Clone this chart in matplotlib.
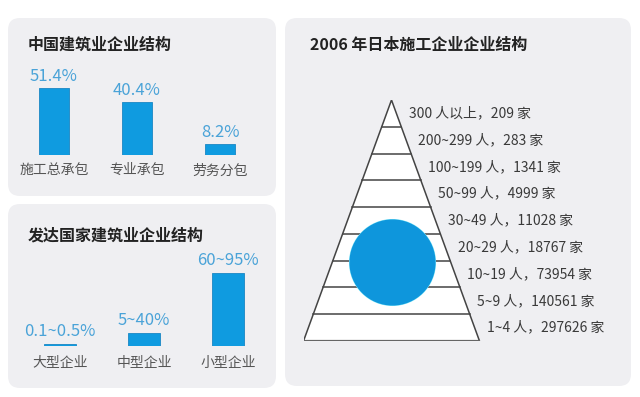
import matplotlib
matplotlib.use("Agg")
import matplotlib.pyplot as plt
from matplotlib.patches import FancyBboxPatch, Polygon
import numpy as np

plt.rcParams['font.family'] = ['Noto Sans CJK SC', 'DejaVu Sans']

# ---- data ----
cn_titles = "中国建筑业企业结构"
cn_categories = ["施工总承包", "专业承包", "劳务分包"]
cn_values = [51.4, 40.4, 8.2]
cn_labels = ["51.4%", "40.4%", "8.2%"]

dev_title = "发达国家建筑业企业结构"
dev_categories = ["大型企业", "中型企业", "小型企业"]
dev_heights = [1.5, 10, 56]          # bar heights as drawn (illustrative)
dev_labels = ["0.1~0.5%", "5~40%", "60~95%"]

jp_title = "2006 年日本施工企业企业结构"
jp_sizes = ["1~4 人", "5~9 人", "10~19 人", "20~29 人", "30~49 人",
            "50~99 人", "100~199 人", "200~299 人", "300 人以上"]
jp_counts = [297626, 140561, 73954, 18767, 11028, 4999, 1341, 283, 209]

BLUE = "#0f9be0"
LABEL_BLUE = "#4aa3d8"
PANEL = "#efeff2"
W, H = 640, 397

fig = plt.figure(figsize=(6.4, 3.97), dpi=100)
fig.patch.set_facecolor("white")


def px_axes(left, top, width, height):
    # axes placed by pixel box (from top-left)
    return fig.add_axes([left / W, 1 - (top + height) / H, width / W, height / H])


# background panels
bg = fig.add_axes([0, 0, 1, 1])
bg.set_xlim(0, W)
bg.set_ylim(H, 0)
bg.axis('off')
for (x0, y0, x1, y1) in [(8, 18, 276, 196), (8, 204, 276, 388), (285, 18, 631, 386)]:
    bg.add_patch(FancyBboxPatch((x0, y0), x1 - x0, y1 - y0,
                                boxstyle="round,pad=0,rounding_size=12",
                                fc=PANEL, ec="none"))

bg.text(28, 45, cn_titles, fontsize=11.5, fontweight='bold', color="#222222", va='center')
bg.text(28, 235, dev_title, fontsize=11.5, fontweight='bold', color="#222222", va='center')
bg.text(310, 45, jp_title, fontsize=11.5, fontweight='bold', color="#222222", va='center')


def bar_panel(ax, values, labels, cats, offset, pad):
    x = np.arange(len(values))
    ax.bar(x, values, width=0.37, color=BLUE, edgecolor="#1a86c4", linewidth=0.6)
    for xi, v, lab in zip(x, values, labels):
        ax.annotate(lab, (xi, v), xytext=(0, offset), textcoords='offset points',
                    ha='center', va='bottom', fontsize=12, color=LABEL_BLUE)
    ax.set_xlim(-0.5, len(values) - 0.5)
    ax.set_ylim(0, 100)
    ax.set_xticks(x)
    ax.set_xticklabels(cats, fontsize=10, color="#555555")
    ax.tick_params(axis='x', length=0, pad=pad)
    ax.set_yticks([])
    for s in ax.spines.values():
        s.set_visible(False)
    ax.patch.set_alpha(0)


# China panel: bottom of bars at y=155 px, 1.31 px per %
ax1 = px_axes(137 - 124.5, 155 - 131, 249, 131)
bar_panel(ax1, cn_values, cn_labels, cn_categories, 2, 6)

# developed countries panel: bottom at y=346 px, 1.3 px per unit
ax2 = px_axes(144 - 126, 346 - 130, 252, 130)
bar_panel(ax2, dev_heights, dev_labels, dev_categories, 3, 7)

# Japan pyramid: base y=341 px, apex y=100 px, half width 88 px
n = len(jp_sizes)
ax3 = px_axes(391.5 - 88, 100, 176 * 1.9, 241)
ax3.set_xlim(-1, -1 + 2 * 1.9)
ax3.set_ylim(0, n)
ax3.axis('off')
ax3.patch.set_alpha(0)

ax3.add_patch(Polygon([(-1, 0), (1, 0), (0, n)], closed=True, fc="white",
                      ec="#444444", lw=1.1, joinstyle='miter'))
ax3.plot([-1, 1], [0, 0], color="#666666", lw=1.6, solid_capstyle='butt')
for level in range(1, n):
    hw = 1 - level / n
    ax3.plot([-hw, hw], [level, level], color="#444444", lw=1.1)

# decorative circle
circle_center = (0.0, 2.95)
ax3.scatter([circle_center[0]], [circle_center[1]], s=3800, color="#7fe6f7", zorder=3)
ax3.scatter([circle_center[0]], [circle_center[1]], s=3720, color="#0e96dc", zorder=4)

for i, (size, cnt) in enumerate(zip(jp_sizes, jp_counts)):
    yc = i + 0.5
    hw = 1 - yc / n
    ax3.text(hw + 0.14, yc, f"{size}，{cnt} 家", fontsize=10, color="#3a3a3a",
             va='center', ha='left')

fig.savefig("out.png", dpi=100, facecolor="white")
